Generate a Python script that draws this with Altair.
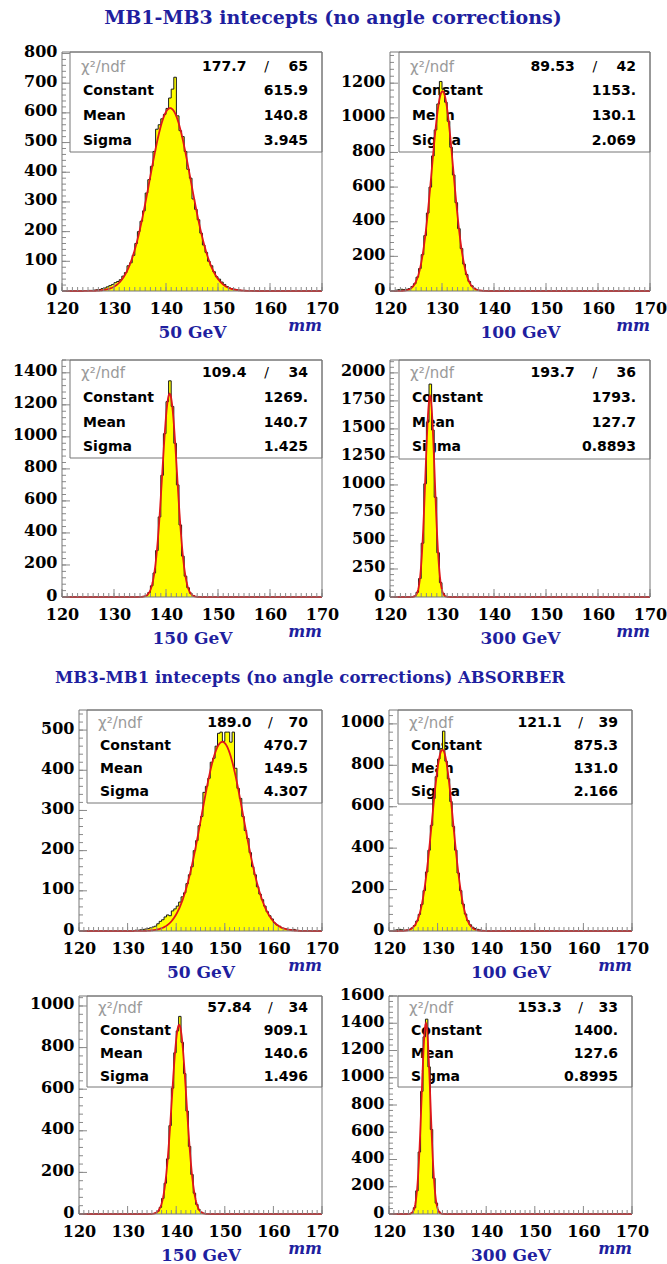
import altair as alt
import pandas as pd

# ---------------- data ----------------
title_top = "MB1-MB3 intecepts (no angle corrections)"
title_bottom = "MB3-MB1 intecepts (no angle corrections) ABSORBER"
energies = ["50 GeV", "100 GeV", "150 GeV", "300 GeV", "50 GeV", "100 GeV", "150 GeV", "300 GeV"]
chi2_values = ["177.7", "89.53", "109.4", "193.7", "189.0", "121.1", "57.84", "153.3"]
ndf_values = ["65", "42", "34", "36", "70", "39", "34", "33"]
constants = ["615.9", "1153.", "1269.", "1793.", "470.7", "875.3", "909.1", "1400."]
means = ["140.8", "130.1", "140.7", "127.7", "149.5", "131.0", "140.6", "127.6"]
sigmas = ["3.945", "2.069", "1.425", "0.8893", "4.307", "2.166", "1.496", "0.8995"]
y_max = [805, 1380, 1480, 2115, 550, 1067, 1048, 1600]
y_label_step = [100, 200, 200, 250, 100, 200, 200, 200]
x_ticks = [120, 130, 140, 150, 160, 170]
x_min, x_max, bin_width = 120.0, 170.0, 0.5
first_bin_edge = [124.0, 121.0, 135.0, 124.0, 130.0, 121.0, 135.0, 124.0]

hist_mb13_50 = [1, 1, 2, 2, 3, 4, 5, 8, 10, 14, 18, 22, 28, 32, 38, 50, 62, 85, 95, 120,
                160, 200, 235, 270, 330, 375, 420, 470, 545, 560, 580, 595, 615, 650, 680, 720,
                590, 540, 520, 470, 410, 380, 310, 275, 240, 195, 155, 130, 100, 85, 65, 48,
                40, 30, 22, 15, 10, 8, 6, 4, 3, 2, 2, 1, 1]
hist_mb13_100 = [5, 8, 10, 8, 10, 14, 25, 42, 80, 130, 210, 320, 450, 600, 780, 930, 1080, 1210,
                 1165, 1090, 980, 830, 670, 510, 360, 245, 155, 95, 55, 30, 16, 8, 4, 3, 1]
hist_mb13_150 = [2, 4, 10, 28, 70, 150, 290, 500, 760, 1020, 1220, 1350, 1190, 960, 700, 450,
                 255, 130, 58, 24, 9, 3, 1]
hist_mb13_300 = [2, 8, 42, 165, 480, 1010, 1560, 1900, 1490, 890, 395, 128, 32, 6, 2]
hist_mb31_50 = [1, 0, 1, 2, 2, 3, 4, 5, 6, 8, 10, 12, 18, 24, 28, 35, 40, 38, 50, 55, 62, 72,
                85, 95, 118, 140, 160, 200, 225, 262, 285, 345, 360, 380, 420, 430, 460, 492,
                495, 472, 495, 495, 470, 495, 405, 355, 330, 285, 250, 230, 195, 160, 140, 110,
                92, 78, 62, 48, 38, 30, 20, 15, 12, 8, 6, 5, 4, 3, 4, 2, 1]
hist_mb31_100 = [4, 6, 8, 6, 4, 5, 8, 15, 26, 48, 80, 128, 195, 285, 390, 510, 640, 745, 830,
                 880, 965, 820, 735, 625, 505, 390, 280, 195, 130, 82, 50, 30, 18, 12, 8, 5, 3, 2, 1]
hist_mb31_150 = [2, 5, 13, 32, 75, 148, 265, 425, 605, 775, 880, 950, 825, 675, 495, 325, 190,
                 100, 46, 20, 8, 3, 1]
hist_mb31_300 = [2, 9, 46, 170, 455, 900, 1300, 1430, 1080, 620, 262, 80, 18, 4, 1]
histograms = [hist_mb13_50, hist_mb13_100, hist_mb13_150, hist_mb13_300,
              hist_mb31_50, hist_mb31_100, hist_mb31_150, hist_mb31_300]

# ---------------- styling / layout ----------------
BLUE = "#1f1f9f"
YELLOW = "#ffff00"
RED = "#e0161a"
FRAME = "#777777"
TICK = "#8a8a8a"
SERIF = "DejaVu Serif"
SANS = "DejaVu Sans"
LEFT = 62          # every element's left extent (page x of the first plot column origin)
RIGHT_EXT = 16

# x0: inset of the frame inside the view, w: view width, h: plot height
GEOM = [
    dict(x0=0, w=260, h=239, lx=LEFT, top=12, bot=54, box_l=8, box_b=100, rows=[15, 39, 64, 89]),
    dict(x0=0, w=260, h=239, lx=51, top=12, bot=54, box_l=9, box_b=100, rows=[15, 39, 64, 89]),
    dict(x0=0, w=260, h=237, lx=LEFT, top=12, bot=54, box_l=8, box_b=98, rows=[13, 38, 63, 87]),
    dict(x0=0, w=260, h=237, lx=51, top=12, bot=54, box_l=9, box_b=99, rows=[13, 38, 63, 87]),
    dict(x0=17, w=260, h=221, lx=LEFT, top=12, bot=50, box_l=8, box_b=93, rows=[13, 36, 59, 82]),
    dict(x0=0, w=243, h=221, lx=46, top=12, bot=50, box_l=9, box_b=94, rows=[13, 36, 59, 82]),
    dict(x0=17, w=260, h=218, lx=LEFT, top=12, bot=50, box_l=8, box_b=91, rows=[12, 35, 58, 81]),
    dict(x0=0, w=243, h=218, lx=46, top=12, bot=50, box_l=9, box_b=91, rows=[12, 35, 58, 81]),
]


def hist_frame(start, counts):
    n_bins = int(round((x_max - x_min) / bin_width))
    offset = int(round((start - x_min) / bin_width))
    xs, ns = [], []
    for k in range(n_bins):
        j = k - offset
        xs.append(x_min + k * bin_width)
        ns.append(counts[j] if 0 <= j < len(counts) else 0)
    xs.append(x_max)
    ns.append(0)
    return pd.DataFrame({"x": xs, "n": ns})


def one():
    return pd.DataFrame({"a": [0]})


def text(s, x, y, align="left", font=SANS, weight="bold", color="black", size=14, style="normal"):
    return alt.Chart(one()).mark_text(
        text=s, align=align, baseline="middle", font=font, fontWeight=weight,
        fontSize=size, color=color, fontStyle=style
    ).encode(x=alt.value(x), y=alt.value(y))


def extender(x1, y1, x2, y2):
    return alt.Chart(one()).mark_rule(opacity=0, color="white").encode(
        x=alt.value(x1), y=alt.value(y1), x2=alt.value(x2), y2=alt.value(y2))


def make_panel(i):
    g = GEOM[i]
    x0, w, h = g["x0"], g["w"], g["h"]
    C, mu, sg = float(constants[i]), float(means[i]), float(sigmas[i])
    xs = alt.Scale(domain=[x_min, x_max], range=[x0, w], nice=False, zero=False)
    ys = alt.Scale(domain=[0, y_max[i]], nice=False, zero=True)
    step = y_label_step[i]
    y_vals = [v for v in range(0, y_max[i] + 1, step)]
    y_minor = [v for v in range(0, y_max[i] + 1, step // 5)]
    x_minor = [float(v) for v in range(int(x_min), int(x_max) + 1)]

    xaxis = alt.Axis(values=x_ticks, format="d", title=energies[i], labelFont=SERIF,
                     labelFontWeight="bold", labelFontSize=16, labelColor="black", labelPadding=9,
                     ticks=False, domain=False, grid=False, labelOverlap=False, labelFlush=False,
                     titleFont=SERIF, titleFontSize=17, titleFontWeight="bold", titleColor=BLUE,
                     titleX=(x0 + w) / 2, titleY=41, titleBaseline="middle", titleAlign="center")
    yaxis = alt.Axis(values=y_vals, format="d", title="", labelFont=SERIF, labelFontWeight="bold",
                     labelFontSize=16, labelColor="black", labelPadding=5, labelOffset=-2,
                     ticks=False, domain=False, grid=False, labelOverlap=False, labelFlush=False,
                     offset=-x0)

    def X(field):
        return alt.X(field, scale=xs, axis=xaxis)

    def Y(field):
        return alt.Y(field, scale=ys, axis=yaxis)

    df = hist_frame(first_bin_edge[i], histograms[i])

    bl, bb = x0 + g["box_l"], g["box_b"]
    bw = w - bl
    r = g["rows"]
    box = alt.Chart(one()).mark_rect(fill="white", stroke=FRAME, strokeWidth=1).encode(
        x=alt.value(bl), x2=alt.value(w), y=alt.value(0), y2=alt.value(bb))
    tx = bl + 13
    vr = w - 14
    texts = [
        text("\u03c7\u00b2/ndf", tx - 2, r[0], font=SANS, weight="normal", color="#9a9a9a", size=15),
        text(chi2_values[i], bl + 0.70 * bw, r[0], align="right"),
        text("/", bl + 0.78 * bw, r[0], align="center", weight="normal"),
        text(ndf_values[i], vr, r[0], align="right"),
        text("Constant", tx, r[1]), text(constants[i], vr, r[1], align="right"),
        text("Mean", tx, r[2]), text(means[i], vr, r[2], align="right"),
        text("Sigma", tx, r[3]), text(sigmas[i], vr, r[3], align="right"),
    ]

    area = alt.Chart(df).mark_area(interpolate="step-after", color=YELLOW, opacity=1).encode(
        x=X("x:Q"), y=Y("n:Q"))
    outline = alt.Chart(df).mark_line(interpolate="step-after", color="#1a1a1a", strokeWidth=1).encode(
        x=X("x:Q"), y=Y("n:Q"))
    fit = alt.Chart(alt.sequence(x_min, x_max + 0.01, 0.1, as_="x")).transform_calculate(
        n=f"{C}*exp(-0.5*pow((datum.x-{mu})/{sg},2))"
    ).mark_line(color=RED, strokeWidth=1.8).encode(x=X("x:Q"), y=Y("n:Q"))

    ymaj = alt.Chart(pd.DataFrame({"n": y_vals})).mark_rule(color=TICK, strokeWidth=1).encode(
        y=Y("n:Q"), x=alt.value(x0), x2=alt.value(x0 + 8))
    ymin = alt.Chart(pd.DataFrame({"n": y_minor})).mark_rule(color=TICK, strokeWidth=1).encode(
        y=Y("n:Q"), x=alt.value(x0), x2=alt.value(x0 + 4))
    xmaj = alt.Chart(pd.DataFrame({"x": [float(v) for v in x_ticks]})).mark_rule(color=TICK, strokeWidth=1).encode(
        x=X("x:Q"), y=alt.value(h), y2=alt.value(h - 8))
    xmin = alt.Chart(pd.DataFrame({"x": x_minor})).mark_rule(color=TICK, strokeWidth=1).encode(
        x=X("x:Q"), y=alt.value(h), y2=alt.value(h - 4))

    frame = alt.Chart(one()).mark_rect(filled=False, stroke=FRAME, strokeWidth=1).encode(
        x=alt.value(x0), x2=alt.value(w), y=alt.value(0), y2=alt.value(h))
    mm = text("mm", w, h + 35, align="right", font=SERIF, weight="bold", color=BLUE, size=16, style="italic")
    ext = extender(-g["lx"], -g["top"], w + RIGHT_EXT, h + g["bot"])

    return alt.layer(box, *texts, area, outline, fit, ymin, ymaj, xmin, xmaj, frame, mm, ext).properties(
        width=w, height=h)


def title_block(s, cx, size, up, down):
    t = alt.Chart(one()).mark_text(
        text=s, align="center", baseline="middle", font=SERIF, fontWeight="bold",
        fontSize=size, color=BLUE).encode(x=alt.value(cx - LEFT), y=alt.value(0))
    return alt.layer(t, extender(-LEFT, -up, 1, down)).properties(width=1, height=1)


panels = [make_panel(i) for i in range(8)]

top = alt.concat(*panels[:4], columns=2, spacing={"row": 3, "column": 0}, align="each")
bottom = alt.concat(*panels[4:], columns=2, spacing={"row": 3, "column": 0}, align="each")

title1 = title_block(title_top, 333, 19, 18, 22)       # centre at y=18, grid starts at y=40
title2 = title_block(title_bottom, 310, 16.5, 27, 20)  # centre at y=678, between 651 and 698

chart = alt.concat(title1, top, title2, bottom, columns=1, spacing=0).properties(
    padding={"left": 0, "right": 0, "top": 0, "bottom": 0}, background="white"
).configure_view(strokeWidth=0)

chart.save("out.html", embed_options={"renderer": "svg", "actions": False})
